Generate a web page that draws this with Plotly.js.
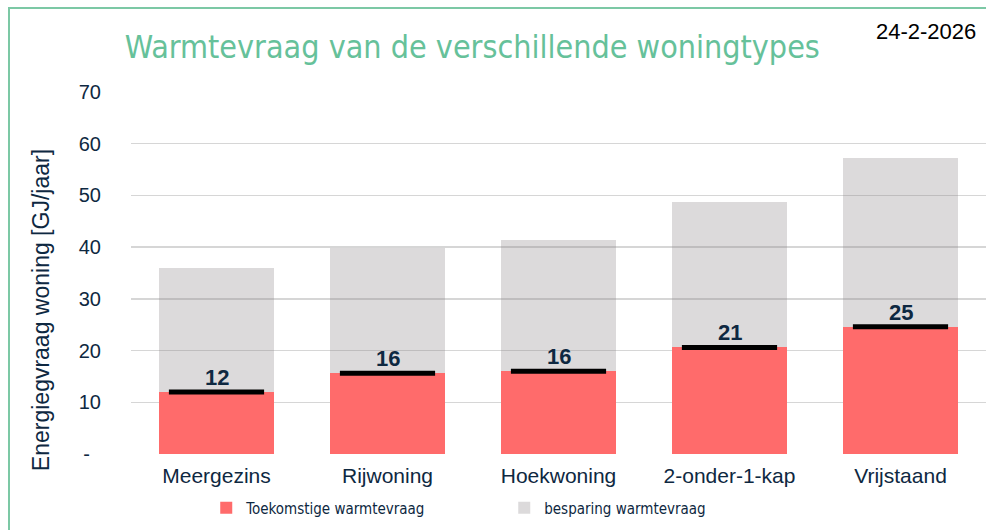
<!DOCTYPE html>
<html>
<head>
<meta charset="utf-8">
<script src="https://cdn.plot.ly/plotly-3.0.1.min.js"></script>
<style>
  html, body { margin: 0; padding: 0; background: #ffffff; }
  #wrap { position: relative; width: 986px; height: 530px; overflow: hidden; }
  #chart { position: absolute; left: 0; top: 0; width: 986px; height: 530px; }
  #frame { position: absolute; left: 8px; top: 7px; width: 1000px; height: 600px;
           border-left: 2px solid #7CC8A5; border-top: 2px solid #7CC8A5; pointer-events: none; }
</style>
</head>
<body>
<div id="wrap">
  <div id="chart"></div>
  <div id="frame"></div>
</div>
<script>
// ---- data ----
const categories = ["Meergezins", "Rijwoning", "Hoekwoning", "2-onder-1-kap", "Vrijstaand"];
const toekomstig = [12.0, 15.6, 16.0, 20.6, 24.6];
const besparing = [23.9, 24.3, 25.3, 28.2, 32.6];
const labelText = ["12", "16", "16", "21", "25"];
const yTickVals = [0, 10, 20, 30, 40, 50, 60, 70];
const yTickText = ["-\u00a0\u00a0", "10", "20", "30", "40", "50", "60", "70"];
const yTitle = "Energiegvraag woning [GJ/jaar]";

const navy = "#0E2841";

const traces = [
  {
    type: "bar", name: "Toekomstige warmtevraag",
    x: categories, y: toekomstig,
    marker: { color: "#FF6B6B" },
    hoverinfo: "none"
  },
  {
    type: "bar", name: "besparing warmtevraag",
    x: categories, y: besparing,
    marker: { color: "rgba(140,134,137,0.30)" },
    hoverinfo: "none"
  },
  {
    type: "scatter", mode: "markers", showlegend: false,
    x: categories, y: toekomstig,
    marker: { symbol: "line-ew-open", size: 68, color: "#000000", line: { color: "#000000", width: 5 } },
    hoverinfo: "none"
  }
];

const annotations = categories.map((c, i) => ({
  x: c, y: toekomstig[i], xref: "x", yref: "y",
  text: labelText[i], showarrow: false,
  yanchor: "bottom", yshift: 0,
  font: { family: "Liberation Sans, Arial, sans-serif", size: 22, color: navy, weight: "bold" }
}));
annotations.push({
  xref: "paper", yref: "paper", x: 0.9906, y: 1.166,
  xanchor: "right", yanchor: "middle", showarrow: false,
  text: "24-2-2026",
  font: { family: "Liberation Sans, Arial, sans-serif", size: 22, color: "#000000" }
});
annotations.push({
  xref: "paper", yref: "paper", x: -0.105, y: 0.398,
  xanchor: "center", yanchor: "middle", showarrow: false,
  textangle: -90,
  text: yTitle,
  font: { family: "Liberation Sans, Arial, sans-serif", size: 23, color: navy }
});

const layout = {
  width: 986, height: 530,
  margin: { l: 131, r: 0, t: 92, b: 76, autoexpand: false },
  paper_bgcolor: "#ffffff", plot_bgcolor: "#ffffff",
  barmode: "stack", bargap: 0.333,
  showlegend: true,
  title: {
    text: "Warmtevraag van de verschillende woningtypes",
    xref: "container", yref: "container",
    x: 0.479, xanchor: "center", y: 1 - 47 / 530, yanchor: "middle",
    font: { family: "DejaVu Sans Condensed, sans-serif", size: 32, color: "#66C19A" }
  },
  xaxis: {
    type: "category",
    tickfont: { family: "Liberation Sans, Arial, sans-serif", size: 21, color: navy },
    showgrid: false, zeroline: false, showline: false,
    ticks: "outside", ticklen: 3, tickcolor: "rgba(0,0,0,0)",
    tickangle: 0, automargin: false, fixedrange: true
  },
  yaxis: {
    range: [0, 70], tickvals: yTickVals, ticktext: yTickText,
    tickfont: { family: "Liberation Sans, Arial, sans-serif", size: 20, color: navy },
    showgrid: true, gridcolor: "#D6D6D6", gridwidth: 1.5,
    zeroline: false, showline: false,
    ticks: "outside", ticklen: 25, tickcolor: "rgba(0,0,0,0)",
    automargin: false,
    fixedrange: true
  },
  legend: {
    orientation: "h",
    xref: "paper", yref: "paper",
    x: 0.088, xanchor: "left", y: -0.149, yanchor: "middle",
    font: { family: "DejaVu Sans Condensed, sans-serif", size: 15, color: navy },
    entrywidth: 253, entrywidthmode: "pixels",
    traceorder: "normal", bgcolor: "rgba(0,0,0,0)"
  },
  annotations: annotations
};

Plotly.newPlot("chart", traces, layout, { displayModeBar: false, staticPlot: true });
</script>
</body>
</html>
